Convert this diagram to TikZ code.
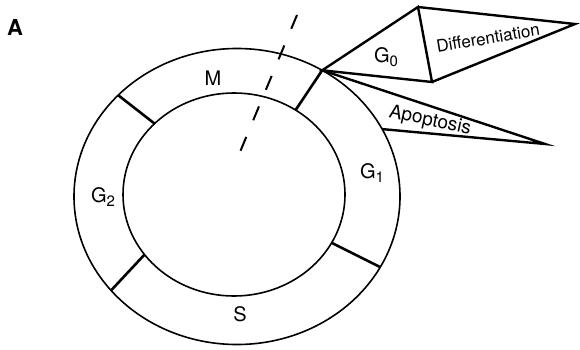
\documentclass[tikz,border=0pt]{standalone}
\usepackage{fontspec}
\setmainfont{TeX Gyre Heros}
\usetikzlibrary{calc}
\newcommand\phasesub[1]{\raisebox{-0.35ex}{\fontsize{15}{15}\selectfont #1}}
\tikzset{
  ring/.style  ={draw=black, line width=1.6pt},
  wall/.style  ={draw=black, line width=2.6pt},
  wedge/.style ={draw=black, line width=2.4pt, line join=miter},
  cut/.style   ={draw=black, line width=2pt, dash pattern=on 15pt off 18pt},
  phase/.style ={inner sep=0pt, font=\fontsize{20}{22}\selectfont},
  fate/.style  ={inner sep=0pt},
  panel/.style ={inner sep=0pt, font=\fontsize{22}{24}\selectfont\bfseries},
}
\begin{document}
\begin{tikzpicture}[x=1pt,y=1pt]
\useasboundingbox (0,0) rectangle (580,349);
\coordinate (co) at (237,152.5);
\coordinate (ci) at (234,154.5);
% the cycle
\draw[ring] (co) ellipse [x radius=163, y radius=148];
\draw[ring] (ci) ellipse [x radius=111, y radius=101.5];
\coordinate (exit)   at ($(co)+(58.5:163 and 148)$);
\coordinate (mgin)   at ($(ci)+(56.3:111 and 101.5)$);
\coordinate (m2out)  at ($(co)+(136.8:163 and 148)$);
\coordinate (m2in)   at ($(ci)+(135.7:111 and 101.5)$);
\coordinate (s1out)  at ($(co)+(-28.5:163 and 148)$);
\coordinate (s1in)   at ($(ci)+(-28.4:111 and 101.5)$);
\coordinate (s2out)  at ($(co)+(-140.6:163 and 148)$);
\coordinate (s2in)   at ($(ci)+(-143.7:111 and 101.5)$);
\draw[wall] (mgin) -- (exit);
\draw[wall] (m2in) -- (m2out);
\draw[wall] (s1in) -- (s1out);
\draw[wall] (s2in) -- (s2out);
% exits from the cycle
\coordinate (g0top)   at (418,342);
\coordinate (g0bot)   at (432,267);
\coordinate (difftip) at (575,325);
\coordinate (apotip)  at (545,205);
\coordinate (apobase) at ($(co)+(27.1:163 and 148)$);
\draw[wedge] (exit) -- (g0top) -- (g0bot) -- cycle;
\draw[wedge] (g0top) -- (difftip) -- (g0bot);
\draw[wedge] (exit) -- (apotip) -- (apobase);
% cut line
\coordinate (cuttop) at (297,334);
\coordinate (cutbot) at (240,197);
\draw[cut] (cuttop) -- (cutbot);
% labels
\node[panel] (lab) at (15,322) {A};
\node[phase] (m)  at (213,271) {M};
\node[phase] (g1) at (372,176) {G\phasesub{1}};
\node[phase] (g2) at (103,152) {G\phasesub{2}};
\node[phase] (s)  at (240,35)  {S};
\node[phase] (g0) at (386,292) {G\phasesub{0}};
\node[fate, rotate=9.5, font=\fontsize{17}{19}\selectfont] (diff) at (488,311) {Differentiation};
\node[fate, rotate=-12, font=\fontsize{19}{21}\selectfont] (apop) at (430,228) {Apoptosis};
\end{tikzpicture}
\end{document}
